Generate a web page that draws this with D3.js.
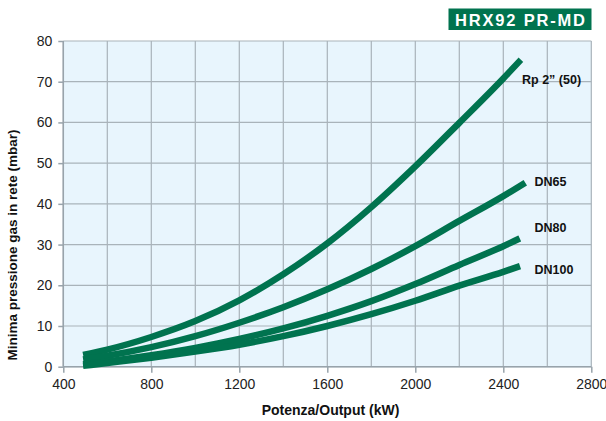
<!DOCTYPE html>
<html><head><meta charset="utf-8">
<script src="https://cdn.jsdelivr.net/npm/d3@7"></script>
<style>
html,body{margin:0;padding:0;background:#fff;}
svg{display:block;font-family:"Liberation Sans",Arial,Helvetica,sans-serif;}
</style></head>
<body><svg id="c" width="606" height="421"></svg>
<script>
const title = "HRX92 PR-MD";
const xLabel = "Potenza/Output (kW)";
const yLabel = "Minima pressione gas in rete (mbar)";
const xTicks = [400, 800, 1200, 1600, 2000, 2400, 2800];
const xGrid = [400, 600, 800, 1000, 1200, 1400, 1600, 1800, 2000, 2200, 2400, 2600, 2800];
const yTicks = [0, 10, 20, 30, 40, 50, 60, 70, 80];
const seriesNames = ["Rp 2\u201D (50)", "DN65", "DN80", "DN100"];
const rpX   = [490, 600, 800, 1000, 1200, 1400, 1600, 1800, 2000, 2200, 2400, 2480];
const rpY   = [2.9, 4.2, 7.3, 11.2, 16.3, 22.7, 30.3, 39.2, 49.2, 59.9, 70.8, 75.4];
const dn65X = [490, 600, 800, 1000, 1200, 1400, 1600, 1800, 2000, 2200, 2400, 2500];
const dn65Y = [1.8, 2.7, 4.8, 7.5, 10.8, 14.6, 19.0, 24.0, 29.6, 35.8, 41.9, 45.2];
const dn80X = [490, 600, 800, 1000, 1200, 1400, 1600, 1800, 2000, 2200, 2400, 2475];
const dn80Y = [0.6, 1.3, 2.8, 4.6, 6.8, 9.4, 12.5, 16.1, 20.3, 25.0, 29.6, 31.5];
const dn100X = [490, 600, 800, 1000, 1200, 1400, 1600, 1800, 2000, 2200, 2400, 2476];
const dn100Y = [0.2, 0.9, 2.2, 3.7, 5.4, 7.5, 10.0, 12.9, 16.2, 19.9, 23.3, 24.7];

const svg = d3.select("#c");
const x = d3.scaleLinear().domain([400, 2800]).range([63.3, 591.3]);
const y = d3.scaleLinear().domain([0, 80]).range([366.7, 41]);
const green = "#00734f";
const gridC = "#a9b3ba";

// background
svg.append("rect").attr("x", x(400)).attr("y", y(80))
  .attr("width", x(2800) - x(400)).attr("height", y(0) - y(80))
  .attr("fill", "#e8f5fd");

// grid
svg.append("g").selectAll("line").data(xGrid).join("line")
  .attr("x1", d => x(d)).attr("x2", d => x(d))
  .attr("y1", y(80)).attr("y2", y(0))
  .attr("stroke", gridC).attr("stroke-width", 1.2);
svg.append("g").selectAll("line").data(yTicks).join("line")
  .attr("x1", x(400)).attr("x2", x(2800))
  .attr("y1", d => y(d)).attr("y2", d => y(d))
  .attr("stroke", gridC).attr("stroke-width", 1.2);

// axes
const xAxis = d3.axisBottom(x).tickValues(xTicks).tickSize(6).tickPadding(6).tickFormat(d3.format("d"));
const gx = svg.append("g").attr("transform", `translate(0,${y(0)})`).call(xAxis);
const yAxis = d3.axisLeft(y).tickValues(yTicks).tickSize(5).tickPadding(6).tickFormat(d3.format("d"));
const gy = svg.append("g").attr("transform", `translate(${x(400)},0)`).call(yAxis);
[gx, gy].forEach(g => {
  g.select(".domain").attr("stroke", "#98a3ab").attr("stroke-width", 1.5);
  g.selectAll(".tick line").attr("stroke", "#98a3ab").attr("stroke-width", 1.5);
  g.selectAll(".tick text").attr("fill", "#222").style("font-size", "14px")
    .style("font-family", "'Liberation Sans',Arial,sans-serif");
});
gx.select(".domain").attr("d", `M${x(400)},0H${x(2800)}`);
gy.select(".domain").attr("d", `M0,${y(80)}V${y(0)}`);

// lines
const seriesX = [rpX, dn65X, dn80X, dn100X];
const seriesY = [rpY, dn65Y, dn80Y, dn100Y];
const line = d3.line().x(d => x(d[0])).y(d => y(d[1])).curve(d3.curveMonotoneX);
const g = svg.append("g");
seriesX.forEach((xs, i) => {
  const pts = xs.map((v, j) => [v, seriesY[i][j]]);
  g.append("path").attr("d", line(pts)).attr("fill", "none")
    .attr("stroke", green).attr("stroke-width", 6.5).attr("stroke-linecap", "butt");
});

// series labels
const labelPos = [[522, 83.5], [534.5, 185.5], [534.5, 232], [534.5, 273.5]];
svg.append("g").selectAll("text").data(seriesNames).join("text")
  .attr("x", (d, i) => labelPos[i][0]).attr("y", (d, i) => labelPos[i][1])
  .attr("fill", "#111").style("font-size", "12.5px").style("font-weight", "bold")
  .text(d => d);

// axis titles
svg.append("text").attr("x", 330.5).attr("y", 415)
  .attr("text-anchor", "middle").attr("fill", "#111")
  .style("font-size", "14px").style("font-weight", "bold").text(xLabel);
svg.append("text").attr("transform", "translate(16.5,245) rotate(-90)")
  .attr("text-anchor", "middle").attr("fill", "#111")
  .style("font-size", "13.5px").style("font-weight", "bold").text(yLabel);

// title box
svg.append("rect").attr("x", 448.5).attr("y", 8.5).attr("width", 143).attr("height", 21.5).attr("fill", green);
svg.append("text").attr("x", 520).attr("y", 26).attr("text-anchor", "middle")
  .attr("fill", "#fff").style("font-size", "16.5px").style("font-weight", "bold")
  .attr("textLength", 130).attr("lengthAdjust", "spacing").text(title);
</script></body></html>
